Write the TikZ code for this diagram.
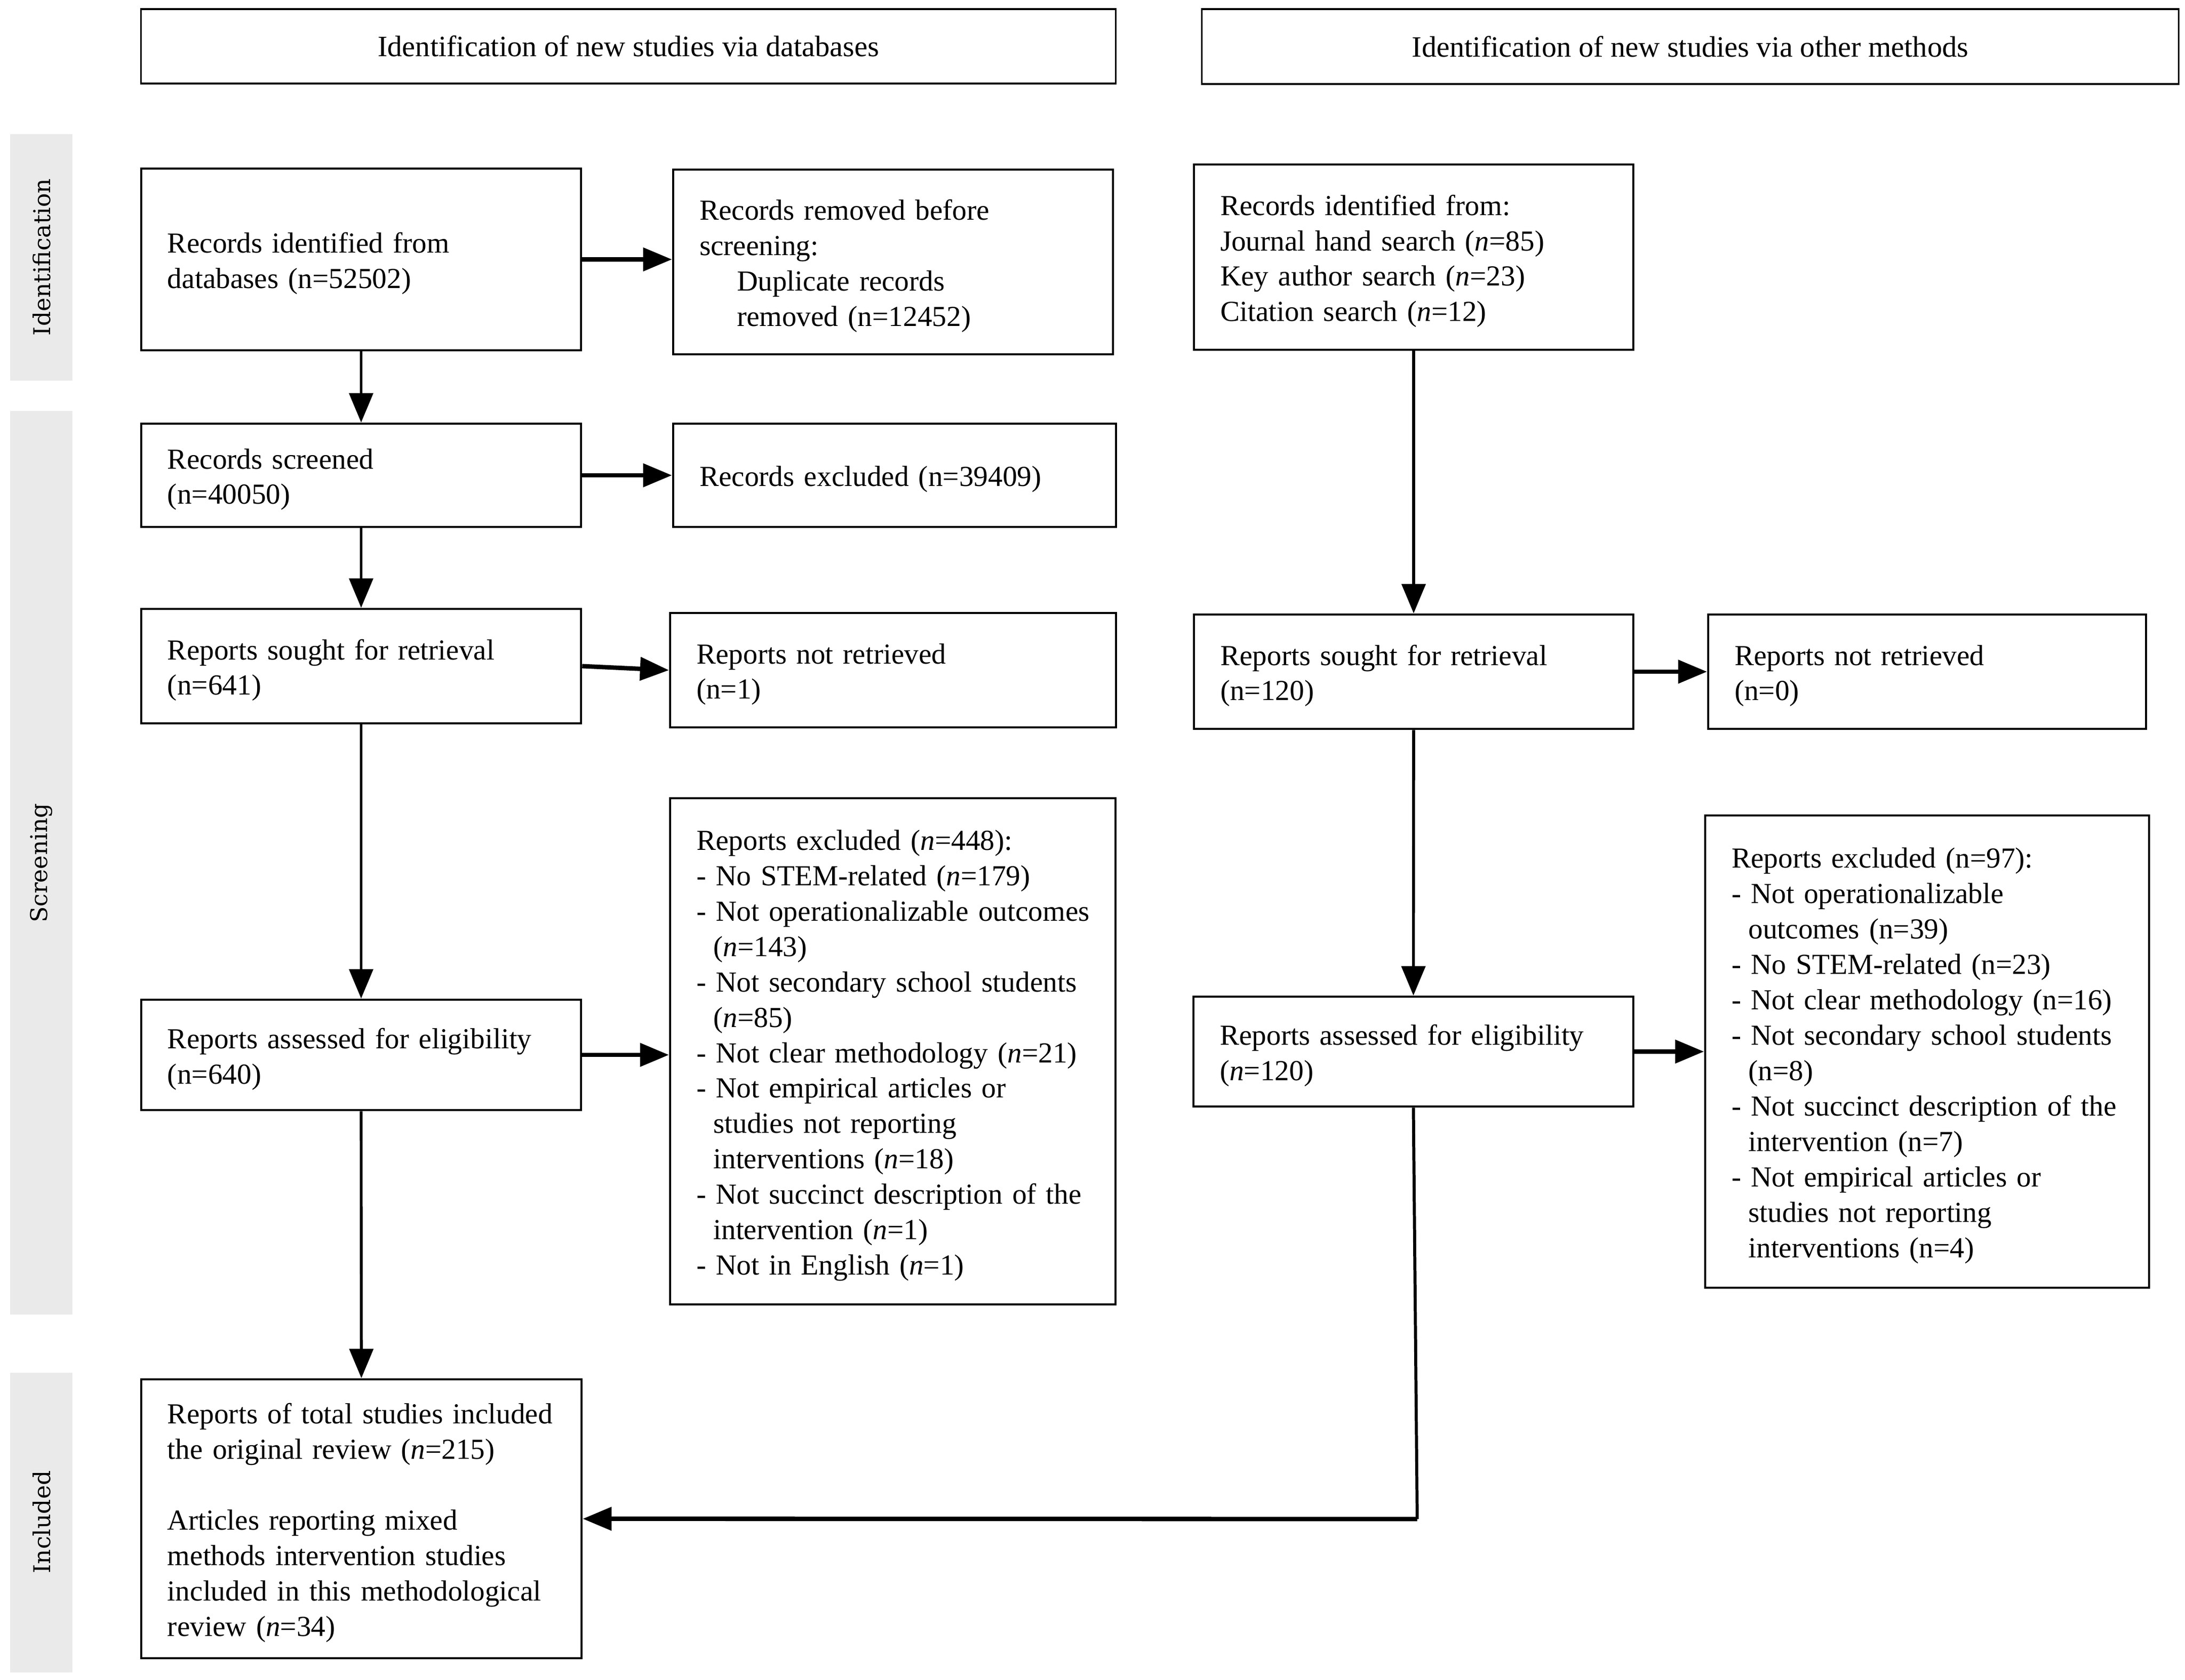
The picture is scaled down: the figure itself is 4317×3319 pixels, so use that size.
\documentclass[tikz,border=0pt]{standalone}
\usepackage{fontspec}
\setmainfont{Liberation Serif}
\newfontfamily\sidefont{DejaVu Serif}
\usetikzlibrary{arrows.meta}
\newcommand{\linesblk}[1]{\raisebox{-0.08cm}[\height][\depth]{\begin{tabular}{@{}l@{}}#1\end{tabular}}}
\newcommand{\contind}{\hspace*{0.583em}}
\newcommand{\dupind}{\hspace*{0.74cm}}
\newcommand{\fbx}[6]{%
  \pgfmathsetmacro{\bxw}{(#4-#2)*0.01}%
  \pgfmathsetmacro{\bxh}{(#5-#3)*0.01}%
  \pgfmathsetmacro{\bxt}{(#4-#2-104)*0.01}%
  \node[flowbox, minimum width=\bxw cm, minimum height=\bxh cm, text width=\bxt cm] (#1) at ({(#2+#4)/2},{(#3+#5)/2}) {\linesblk{#6}};%
}
\definecolor{barfill}{RGB}{234,234,234}
\begin{document}
\begin{tikzpicture}[x=0.01cm,y=-0.01cm,
  font=\fontsize{16.3}{19.9}\selectfont,
  flowbox/.style={draw, line width=1.3pt, inner xsep=0.52cm, inner ysep=0pt, align=left},
  hdrbox/.style={draw, line width=1pt, inner sep=0pt, font=\fontsize{16.6}{19.9}\selectfont},
  sidelab/.style={rotate=90, text=black, font=\sidefont\fontsize{13}{16}\selectfont},
  harrow/.style={line width=2.5pt, -{Triangle[length=0.57cm,width=0.45cm]}},
  varrow/.style={line width=1.6pt, -{Triangle[length=0.58cm,width=0.47cm]}},
  vline/.style={line width=1.7pt}]
\useasboundingbox (0,0) rectangle (4317,3319);

% side bars
\fill[barfill] (20,265) rectangle (143,752);
\fill[barfill] (20,812) rectangle (143,2597);
\fill[barfill] (20,2712) rectangle (143,3304);
\node[sidelab] (lid) at (82,508) {Identification};
\node[sidelab] (lsc) at (82,1705) {Screening};
\node[sidelab] (lin) at (82,3007) {Included};

% headers
\node[hdrbox, minimum width=19.25cm, minimum height=1.47cm] (h1) at (1241.5,91.5) {Identification of new studies via databases};
\node[hdrbox, minimum width=19.29cm, minimum height=1.48cm] (h2) at (3339.5,92) {Identification of new studies via other methods};

% left column
\fbx{A}{279}{333}{1148}{692}{Records identified from\\ databases (n=52502)}
\fbx{B}{1330}{335}{2199}{700}{Records removed before\\ screening:\\ \dupind Duplicate records\\ \dupind removed (n=12452)}
\fbx{C}{279}{837}{1148}{1041}{Records screened\\ (n=40050)}
\fbx{D}{1330}{837}{2205}{1041}{Records excluded (n=39409)}
\fbx{E}{279}{1203}{1148}{1429}{Reports sought for retrieval\\ (n=641)}
\fbx{F}{1324}{1211}{2205}{1437}{Reports not retrieved\\ (n=1)}
\fbx{G}{279}{1975}{1148}{2193}{Reports assessed for eligibility\\ (n=640)}
\fbx{H}{1324}{1577}{2204}{2577}{Reports excluded (\textit{n}=448):\\
- No STEM-related (\textit{n}=179)\\
- Not operationalizable outcomes\\
\contind(\textit{n}=143)\\
- Not secondary school students\\
\contind(\textit{n}=85)\\
- Not clear methodology (\textit{n}=21)\\
- Not empirical articles or\\
\contind studies not reporting\\
\contind interventions (\textit{n}=18)\\
- Not succinct description of the\\
\contind intervention (\textit{n}=1)\\
- Not in English (\textit{n}=1)}
\fbx{I}{279}{2725}{1149}{3276}{Reports of total studies included\\
the original review (\textit{n}=215)\\
\\
Articles reporting mixed\\
methods intervention studies\\
included in this methodological\\
review (\textit{n}=34)}

% right column
\fbx{J}{2359}{325}{3227}{691}{Records identified from:\\
Journal hand search (\textit{n}=85)\\
Key author search (\textit{n}=23)\\
Citation search (\textit{n}=12)}
\fbx{K}{2359}{1214}{3227}{1440}{Reports sought for retrieval\\ (n=120)}
\fbx{L}{3375}{1214}{4240}{1440}{Reports not retrieved\\ (n=0)}
\fbx{M}{2358}{1969}{3227}{2186}{Reports assessed for eligibility\\ (\textit{n}=120)}
\fbx{N}{3369}{1611}{4246}{2544}{Reports excluded (n=97):\\
- Not operationalizable\\
\contind outcomes (n=39)\\
- No STEM-related (n=23)\\
- Not clear methodology (n=16)\\
- Not secondary school students\\
\contind(n=8)\\
- Not succinct description of the\\
\contind intervention (n=7)\\
- Not empirical articles or\\
\contind studies not reporting\\
\contind interventions (n=4)}

% connectors
\draw[harrow] (A.east) -- (A.east -| B.west);
\draw[varrow] (A.south) -- (C.north);
\draw[harrow] (C.east) -- (C.east -| D.west);
\draw[varrow] (C.south) -- (E.north);
\draw[harrow] (E.east) -- (F.west);
\draw[varrow] (E.south) -- (G.north);
\draw[harrow] (G.east) -- (G.east -| H.west);
\draw[varrow] (G.south) -- (I.north);
\draw[varrow] (J.south) -- (K.north);
\draw[harrow] (K.east) -- (K.east -| L.west);
\draw[varrow] (K.south) -- (M.north);
\draw[harrow] (M.east) -- (M.east -| N.west);
\coordinate (mc) at (2800,3001);
\draw[vline] (M.south) -- (mc);
\draw[harrow] (mc) -- (I.east);
\end{tikzpicture}
\end{document}
